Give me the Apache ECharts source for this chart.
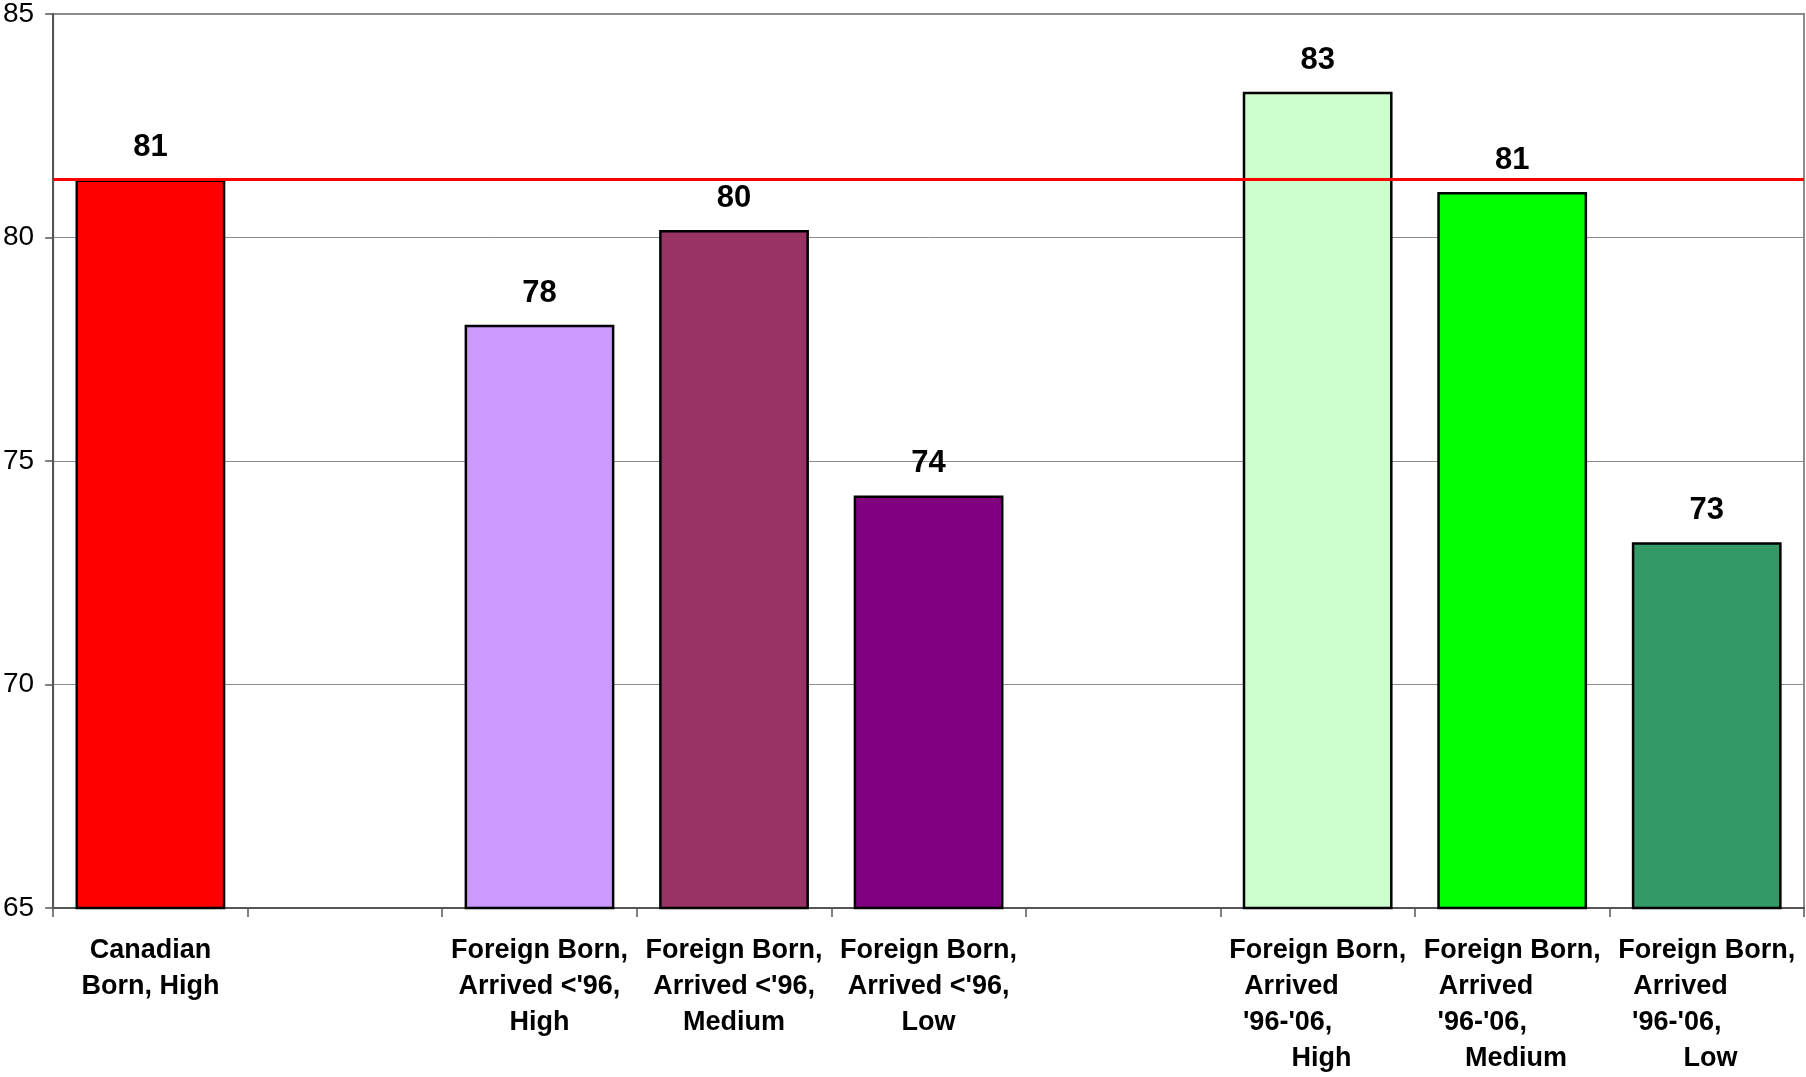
<!DOCTYPE html>
<html>
<head>
<meta charset="utf-8">
<title>Foreign Born vs Canadian Born</title>
<script src="https://cdn.jsdelivr.net/npm/echarts@6/dist/echarts.min.js"></script>
<style>
  html, body { margin: 0; padding: 0; background: #fff; }
  #chart { width: 1806px; height: 1077px; }
</style>
</head>
<body>
<div id="chart"></div>
<script>
// Group labels (empty strings are spacer slots between groups)
const categories = [
  "Canadian\nBorn, High",
  "",
  "Foreign Born,\nArrived <'96,\nHigh",
  "Foreign Born,\nArrived <'96,\nMedium",
  "Foreign Born,\nArrived <'96,\nLow",
  "",
  "Foreign Born,\nArrived       \n'96-'06,        \n High",
  "Foreign Born,\nArrived       \n'96-'06,        \n Medium",
  "Foreign Born,\nArrived       \n'96-'06,        \n Low"
];

// Bar values (null = spacer)
const values = [81.3, null, 78.05, 80.17, 74.23, null, 83.26, 81.02, 73.18];

// Reference level: Canadian Born, High
const referenceLevel = 81.3;

// Axis range and ticks
const yTicks = [65, 70, 75, 80, 85];

// Fill colour per bar
const barColors = ['#FF0000', null, '#CC99FF', '#993366', '#800080', null, '#CCFFCC', '#00FF00', '#339966'];

const FONT = '"Liberation Sans", Arial, sans-serif';

const chart = echarts.init(document.getElementById('chart'), null, { renderer: 'canvas' });

chart.setOption({
  animation: false,
  backgroundColor: '#ffffff',
  grid: {
    left: 53, top: 14, right: 2, bottom: 167,
    show: true,
    borderColor: '#8c8c8c',
    borderWidth: 2
  },
  xAxis: {
    type: 'category',
    data: categories,
    boundaryGap: true,
    axisLine: { show: true, lineStyle: { color: '#555555', width: 2 } },
    axisTick: { show: true, length: 9, lineStyle: { color: '#555555', width: 1.5 } },
    axisLabel: {
      interval: 0,
      margin: 25,
      color: '#000',
      fontFamily: FONT,
      fontWeight: 'bold',
      fontSize: 27,
      lineHeight: 36,
      align: 'center'
    },
    splitLine: { show: false }
  },
  yAxis: {
    type: 'value',
    min: yTicks[0],
    max: yTicks[yTicks.length - 1],
    interval: yTicks[1] - yTicks[0],
    axisLine: { show: true, lineStyle: { color: '#555555', width: 2 } },
    axisTick: { show: true, length: 8, lineStyle: { color: '#555555', width: 1.5 } },
    axisLabel: {
      margin: 19,
      color: '#000',
      fontFamily: FONT,
      fontSize: 28
    },
    splitLine: { show: true, lineStyle: { color: '#8c8c8c', width: 1 } }
  },
  series: [{
    type: 'bar',
    barCategoryGap: '23%',
    data: values.map((v, i) => ({
      value: v,
      itemStyle: { color: barColors[i] || '#fff' }
    })),
    itemStyle: { borderColor: '#000', borderWidth: 2.5 },
    label: {
      show: true,
      position: 'top',
      distance: 16,
      color: '#000',
      fontFamily: FONT,
      fontWeight: 'bold',
      fontSize: 31,
      formatter: p => (p.value == null ? '' : String(Math.round(p.value)))
    },
    markLine: {
      silent: true,
      symbol: 'none',
      label: { show: false },
      lineStyle: { color: '#FF0000', width: 3, type: 'solid' },
      data: [{ yAxis: referenceLevel }]
    }
  }]
});
</script>
</body>
</html>
